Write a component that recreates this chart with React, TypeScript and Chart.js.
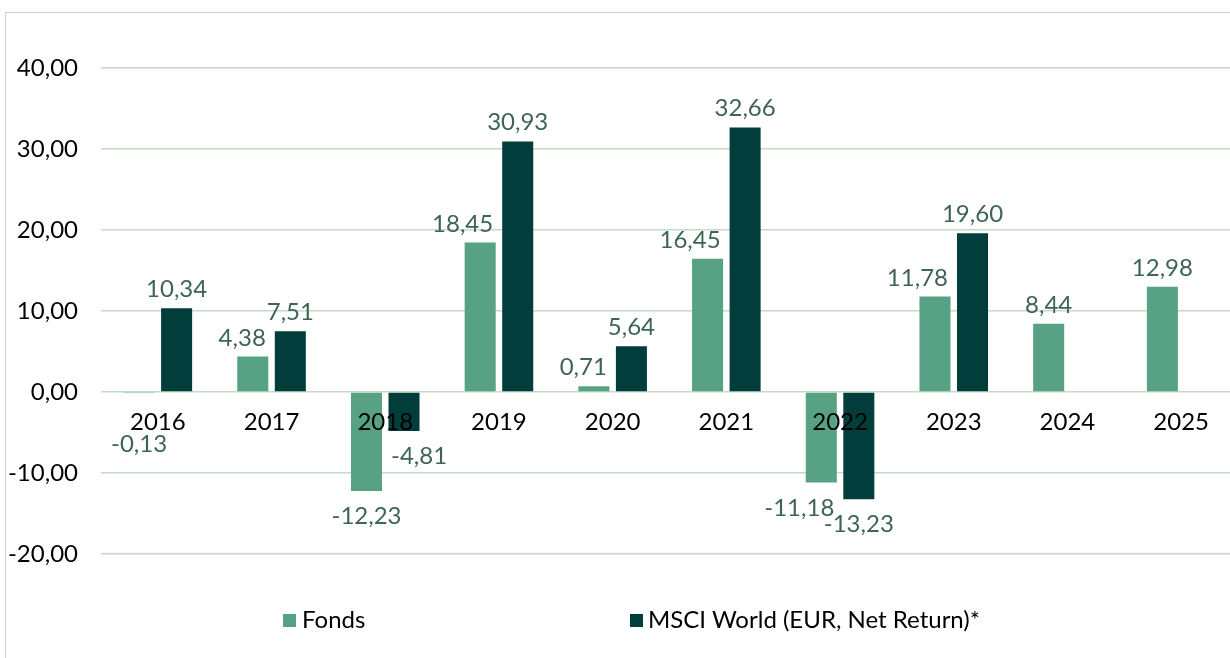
import React, { useEffect, useRef } from "react";
import { Chart, registerables } from "chart.js";

Chart.register(...registerables);

const categories = ["2016", "2017", "2018", "2019", "2020", "2021", "2022", "2023", "2024", "2025"];
const fondsValues: (number | null)[] = [-0.13, 4.38, -12.23, 18.45, 0.71, 16.45, -11.18, 11.78, 8.44, 12.98];
const msciValues: (number | null)[] = [10.34, 7.51, -4.81, 30.93, 5.64, 32.66, -13.23, 19.6, null, null];
const seriesNames = ["Fonds", "MSCI World (EUR, Net Return)*"];
const yMin = -20;
const yMax = 40;
const yStep = 10;

const FONDS_COLOR = "#57a285";
const MSCI_COLOR = "#013d3a";
const GRID_COLOR = "#c5dcc4";
const LABEL_COLOR = "#3e6455";
const FONT = "Lato";
const FONT_SIZE = 24;

const fmt = (v: number) => v.toFixed(2).replace(".", ",");

// Data labels placed outside bar ends; nudged sideways when they would
// collide with the neighbouring bar of the same category (like Excel).
const dataLabelPlugin = {
  id: "dataLabels",
  afterDatasetsDraw(chart: any) {
    const ctx = chart.ctx;
    const zeroY = chart.scales.y.getPixelForValue(0);
    const capH = FONT_SIZE * 0.72;
    const gap = 9;
    ctx.save();
    ctx.font = `${FONT_SIZE}px ${FONT}`;
    ctx.fillStyle = LABEL_COLOR;
    ctx.textAlign = "center";
    ctx.textBaseline = "alphabetic";
    const metas = chart.data.datasets.map((_: any, di: number) => chart.getDatasetMeta(di));
    chart.data.datasets.forEach((ds: any, di: number) => {
      const meta = metas[di];
      meta.data.forEach((el: any, i: number) => {
        const v = ds.data[i];
        if (v === null || v === undefined) return;
        let y;
        if (v >= 0) {
          y = el.y - 11;
        } else {
          y = Math.max(el.y + 33, zeroY + 60);
        }
        const w = ctx.measureText(fmt(v)).width;
        let x = el.x;
        const top = y - capH;
        const bottom = y + 4;
        metas.forEach((om: any, oi: number) => {
          if (oi === di) return;
          const oe = om.data[i];
          const ov = chart.data.datasets[oi].data[i];
          if (!oe || ov === null || ov === undefined) return;
          const bl = oe.x - oe.width / 2;
          const br = oe.x + oe.width / 2;
          const bt = Math.min(oe.y, oe.base);
          const bb = Math.max(oe.y, oe.base);
          const overlapsX = x + w / 2 > bl && x - w / 2 < br;
          const overlapsY = bottom > bt && top < bb;
          if (overlapsX && overlapsY) {
            if (oe.x > el.x) x = bl - gap - w / 2;
            else x = br + gap + w / 2;
          }
        });
        ctx.fillText(fmt(v), x, y);
      });
    });
    ctx.restore();
  },
};

export default function App() {
  const canvasRef = useRef<HTMLCanvasElement | null>(null);

  useEffect(() => {
    if (!canvasRef.current) return;
    const chart = new Chart(canvasRef.current, {
      type: "bar",
      data: {
        labels: categories,
        datasets: [
          {
            label: seriesNames[0],
            data: fondsValues,
            backgroundColor: FONDS_COLOR,
            categoryPercentage: 0.66,
            barPercentage: 0.827,
          },
          {
            label: seriesNames[1],
            data: msciValues,
            backgroundColor: MSCI_COLOR,
            categoryPercentage: 0.66,
            barPercentage: 0.827,
          },
        ],
      },
      options: {
        responsive: false,
        animation: false,
        devicePixelRatio: 1,
        layout: { padding: { left: 8, top: 68, right: 12, bottom: 104 } },
        plugins: {
          legend: { display: false },
          tooltip: { enabled: false },
        },
        scales: {
          x: {
            type: "category",
            position: { y: 0 } as any,
            grid: { display: false, drawTicks: false },
            border: { display: false },
            ticks: {
              z: 1,
              color: "#000",
              font: { family: FONT, size: FONT_SIZE },
              padding: 16,
              maxRotation: 0,
              autoSkip: false,
            },
          },
          y: {
            min: yMin,
            max: yMax,
            grid: { color: GRID_COLOR, lineWidth: 1.4, drawTicks: false },
            border: { display: false },
            afterFit: (scale: any) => {
              scale.width = 93;
            },
            ticks: {
              stepSize: yStep,
              color: "#000",
              font: { family: FONT, size: FONT_SIZE },
              padding: 23,
              callback: (v: any) => fmt(Number(v)),
            },
          },
        },
      },
      plugins: [dataLabelPlugin],
    });
    return () => chart.destroy();
  }, []);

  const legendText: React.CSSProperties = {
    position: "absolute",
    top: 604,
    fontFamily: FONT,
    fontSize: FONT_SIZE,
    lineHeight: "29px",
    color: "#000",
    whiteSpace: "nowrap",
  };
  const square: React.CSSProperties = { position: "absolute", top: 614, width: 13, height: 13 };

  return (
    <div
      style={{
        position: "fixed",
        left: 0,
        top: 0,
        width: 1230,
        height: 658,
        overflow: "hidden",
        background: "#fff",
      }}
    >
      <div
        style={{
          position: "absolute",
          left: 5,
          top: 12,
          width: 1400,
          height: 800,
          borderLeft: `1.5px solid ${GRID_COLOR}`,
          borderTop: `1.5px solid ${GRID_COLOR}`,
        }}
      />
      <canvas
        ref={canvasRef}
        width={1250}
        height={658}
        style={{ position: "absolute", left: 0, top: 0, width: 1250, height: 658 }}
      />
      <div style={{ ...square, left: 283, background: FONDS_COLOR }} />
      <div style={{ ...legendText, left: 302 }}>{seriesNames[0]}</div>
      <div style={{ ...square, left: 630, background: MSCI_COLOR }} />
      <div style={{ ...legendText, left: 648 }}>{seriesNames[1]}</div>
    </div>
  );
}
